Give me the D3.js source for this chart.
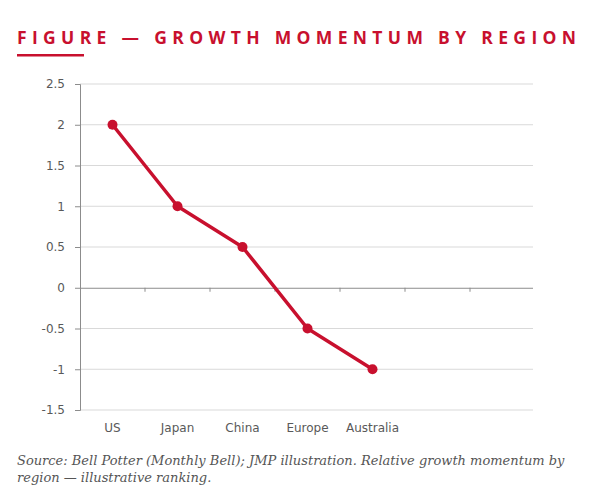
<!DOCTYPE html>
<html>
<head>
<meta charset="utf-8">
<script src="https://cdn.jsdelivr.net/npm/d3@7"></script>
<style>
  body { margin: 0; background: #fff; }
  svg { display: block; }
</style>
</head>
<body>
<svg id="chart" width="592" height="501"></svg>
<script>
// Data
var regions = ["US", "Japan", "China", "Europe", "Australia"];
var momentum = [2, 1, 0.5, -0.5, -1];
var yTicks = [-1.5, -1, -0.5, 0, 0.5, 1, 1.5, 2, 2.5];
var slotCount = 7; // category slots on the axis, last two are empty

var red = "#c8102e";
var svg = d3.select("#chart");

// Title
svg.append("text")
    .attr("x", 17).attr("y", 44)
    .attr("textLength", 559).attr("lengthAdjust", "spacing")
    .style("font-family", "'Open Sans', sans-serif")
    .style("font-weight", "700")
    .style("font-size", "17.5px")
    .style("fill", red)
    .text("FIGURE \u2014 GROWTH MOMENTUM BY REGION");
svg.append("rect")
    .attr("x", 17).attr("y", 54).attr("width", 67).attr("height", 2.5)
    .style("fill", red);

// Scales
var x = d3.scaleBand().domain(d3.range(slotCount)).range([80, 535]);
var y = d3.scaleLinear().domain([-1.5, 2.5]).range([410, 84]);

// Gridlines
svg.append("g").selectAll("line")
    .data(yTicks.filter(function (d) { return d != 0; }))
    .enter().append("line")
    .attr("x1", 80).attr("x2", 533)
    .attr("y1", function (d) { return y(d); })
    .attr("y2", function (d) { return y(d); })
    .style("stroke", "#d9d9d9").style("stroke-width", 1);

// Y axis
var yAxis = svg.append("g")
    .attr("transform", "translate(80,0)")
    .call(d3.axisLeft(y).tickValues(yTicks).tickSize(5).tickPadding(10)
        .tickFormat(function (d) { return String(d); }));
yAxis.selectAll("path, line").style("stroke", "#8c8c8c");
yAxis.selectAll("text")
    .style("font-family", "'DejaVu Sans', sans-serif")
    .style("font-size", "12px")
    .style("fill", "#595959");

// Zero line with category ticks
var xAxis = svg.append("g")
    .attr("transform", "translate(0," + y(0) + ")")
    .call(d3.axisBottom(x).tickSize(0).tickFormat(""));
xAxis.select(".domain").attr("d", "M80,0.5H533").style("stroke", "#8c8c8c");
xAxis.selectAll(".tick").remove();
xAxis.selectAll("line.sep")
    .data(d3.range(1, slotCount))
    .enter().append("line")
    .attr("class", "sep")
    .attr("x1", function (i) { return x(i); })
    .attr("x2", function (i) { return x(i); })
    .attr("y1", 0).attr("y2", 4)
    .style("stroke", "#8c8c8c");

// Category labels
svg.append("g").selectAll("text")
    .data(regions)
    .enter().append("text")
    .attr("x", function (d, i) { return x(i) + x.bandwidth() / 2; })
    .attr("y", 432)
    .attr("text-anchor", "middle")
    .style("font-family", "'DejaVu Sans', sans-serif")
    .style("font-size", "12px")
    .style("fill", "#595959")
    .text(function (d) { return d; });

// Line and markers
var line = d3.line()
    .x(function (d, i) { return x(i) + x.bandwidth() / 2; })
    .y(function (d) { return y(d); });
svg.append("path")
    .datum(momentum)
    .attr("d", line)
    .style("fill", "none")
    .style("stroke", red)
    .style("stroke-width", 3.5)
    .style("stroke-linejoin", "round");
svg.append("g").selectAll("circle")
    .data(momentum)
    .enter().append("circle")
    .attr("cx", function (d, i) { return x(i) + x.bandwidth() / 2; })
    .attr("cy", function (d) { return y(d); })
    .attr("r", 5)
    .style("fill", red);

// Source note
var note = svg.append("text")
    .style("font-family", "'DejaVu Serif', serif")
    .style("font-style", "italic")
    .style("font-size", "13px")
    .style("fill", "#555");
note.append("tspan").attr("x", 17).attr("y", 465)
    .text("Source: Bell Potter (Monthly Bell); JMP illustration. Relative growth momentum by");
note.append("tspan").attr("x", 17).attr("y", 482)
    .text("region \u2014 illustrative ranking.");
</script>
</body>
</html>
